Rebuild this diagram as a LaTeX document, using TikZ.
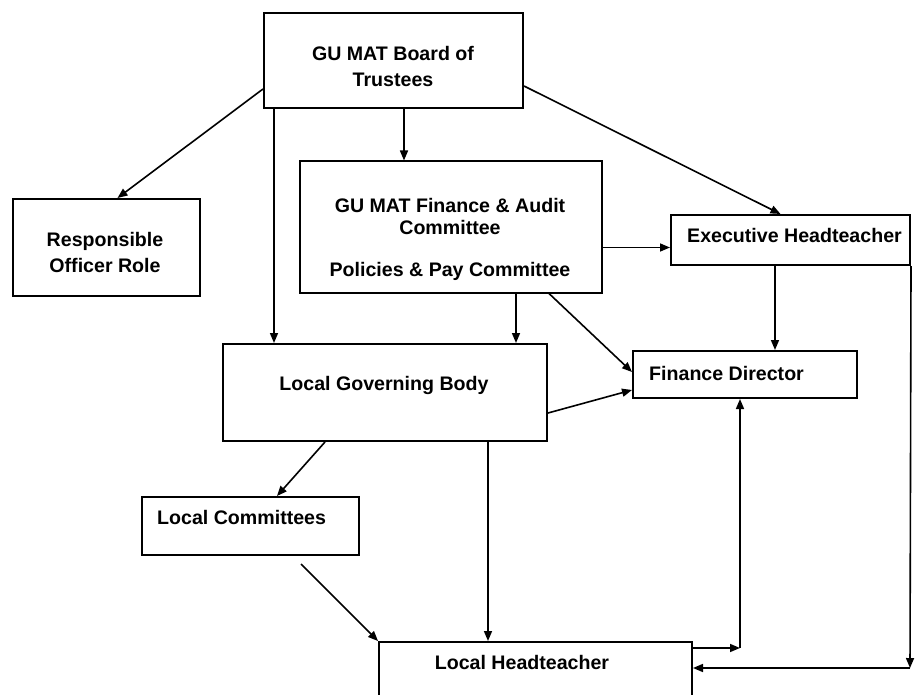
\documentclass[tikz,border=0pt]{standalone}
\usepackage{fontspec}
\setmainfont{Liberation Sans}
\usetikzlibrary{arrows.meta,calc}
\tikzset{
  box/.style={draw=black, line width=2pt, rectangle, inner sep=0pt, fill=none},
  lbl/.style={inner sep=0pt, font=\fontsize{19.6}{24}\selectfont\bfseries, text=black},
  arr/.style={draw=black, line width=1.6pt, -{Triangle[length=10pt,width=8pt]}},
  ln/.style={draw=black, line width=1.6pt}
}
\begin{document}
\begin{tikzpicture}[x=1pt,y=-1pt]
\useasboundingbox (0,0) rectangle (920,695);
\clip (0,0) rectangle (920,695);
\fill[white] (0,0) rectangle (920,695);

% boxes
\node[box, minimum width=259pt, minimum height=95pt] (board) at (393.5,60.5) {};
\node[box, minimum width=187pt, minimum height=97pt] (ro) at (106.5,247.5) {};
\node[box, minimum width=302pt, minimum height=131pt] (fa) at (451,227) {};
\node[box, minimum width=239pt, minimum height=50pt] (exec) at (790.5,240) {};
\node[box, minimum width=224pt, minimum height=47pt] (fd) at (745,374.5) {};
\node[box, minimum width=324pt, minimum height=97pt] (lgb) at (385,392.5) {};
\node[box, minimum width=217pt, minimum height=58pt] (lc) at (250.5,526) {};
\node[box, minimum width=313pt, minimum height=98pt] (lht) at (535.5,691) {};

% texts
\node[lbl, align=center] (boardT1) at (393,53) {GU MAT Board of};
\node[lbl, align=center] (boardT2) at (393,80) {Trustees};
\node[lbl, align=center] (roT1) at (105,241) {Responsible};
\node[lbl, align=center] (roT2) at (105,265) {Officer Role};
\node[lbl] (faT1) at (450,205) {GU MAT Finance \& Audit};
\node[lbl] (faT2) at (450,227) {Committee};
\node[lbl] (faT3) at (450,271) {Policies \& Pay Committee};
\node[lbl, anchor=west] (execT) at (687,235) {Executive Headteacher};
\node[lbl, anchor=west] (fdT) at (649,373) {Finance Director};
\node[lbl] (lgbT) at (384,385) {Local Governing Body};
\node[lbl, anchor=west] (lcT) at (157,517) {Local Committees};
\node[lbl] (lhtT) at (522,662) {Local Headteacher};

% helper coordinates
\coordinate (faE) at ([yshift=-20.5pt]fa.east);
\coordinate (boardS) at ([xshift=10.5pt]board.south);
\coordinate (boardSW) at ([xshift=11pt]board.south west);
\coordinate (faS1) at ([xshift=65pt]fa.south);
\coordinate (execS) at ([xshift=-15.5pt]exec.south);
\coordinate (lgbS) at ([xshift=103pt]lgb.south);

% connectors
\draw[arr] ([yshift=20pt]board.south west) -- ([xshift=11pt]ro.north);
\draw[arr] ([yshift=23pt]board.south east) -- ([xshift=-10pt]exec.north);
\draw[arr] (boardS) -- (boardS |- fa.north);
\draw[arr] (boardSW) -- (boardSW |- lgb.north);
\draw[arr] (faE) -- (faE -| exec.west);
\draw[arr] (faS1) -- (faS1 |- lgb.north);
\draw[arr] ([xshift=98pt]fa.south) -- ([yshift=2.5pt]fd.west);
\draw[arr] ([yshift=-20.5pt]lgb.east) -- ([yshift=-15.5pt]fd.west);
\draw[arr] (execS) -- (execS |- fd.north);
\draw[arr] ([xshift=-60pt]lgb.south) -- ([xshift=26.5pt]lc.north);
\draw[arr] ([shift={(-59pt,-8pt)}]lc.south east) -- (lht.north west);
\draw[arr] (lgbS) -- (lgbS |- lht.north);

\coordinate (c1) at (740,648);
\draw[arr] (c1 -| lht.east) -- (c1);
\draw[arr] (c1) -- (c1 |- fd.south);
\coordinate (c2) at (910,668);
\draw[arr] (exec.south east) -- (c2);
\draw[arr] (c2) -- (c2 -| lht.east);
\end{tikzpicture}
\end{document}
